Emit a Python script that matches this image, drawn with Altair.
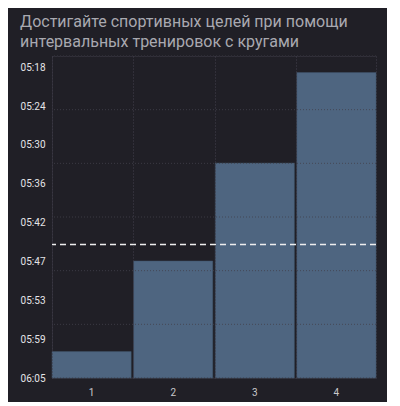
import altair as alt
import pandas as pd

# ---- data ----
LAPS = ["1", "2", "3", "4"]
PACE_SECONDS = [361.0, 347.3, 332.5, 318.8]      # lap pace, seconds per km
AVERAGE_PACE = 344.8                              # dashed reference line
Y_TICK_SECONDS = [318, 323.875, 329.75, 335.625, 341.5, 347.375, 353.25, 359.125, 365]
Y_TICK_LABELS = ["05:18", "05:24", "05:30", "05:36", "05:42", "05:47", "05:53", "05:59", "06:05"]
Y_DOMAIN = [316.3, 365]                           # fastest (top) .. slowest (bottom)
GRID_STEPS = [0, 1, 2, 3, 4, 5, 6]                # evenly spaced horizontal grid
TITLE_LINES = ["Достигайте спортивных целей при помощи",
               "интервальных тренировок с кругами"]

BG = "#201f26"
BAR = "#4e6580"
GRID = "#42414c"
FONT = "Roboto"

bars_df = pd.DataFrame({"lap": LAPS, "pace": PACE_SECONDS, "base": [Y_DOMAIN[1]] * len(LAPS)})
avg_df = pd.DataFrame({"avg": [AVERAGE_PACE]})
grid_df = pd.DataFrame({"g": GRID_STEPS})

label_expr = "{}[indexof({}, datum.value)]".format(
    "[" + ",".join("'" + s + "'" for s in Y_TICK_LABELS) + "]",
    "[" + ",".join(str(v) for v in Y_TICK_SECONDS) + "]",
)

x_enc = alt.X(
    "lap:N",
    sort=LAPS,
    title=None,
    scale=alt.Scale(paddingInner=0.03, paddingOuter=0),
    axis=alt.Axis(
        labelAngle=0, labelFontSize=10, labelColor="#c9c9cc", labelFont=FONT,
        labelPadding=9, ticks=False, domain=False,
        grid=True, gridColor=GRID, gridDash=[1, 2], gridWidth=1, bandPosition=0,
        zindex=1,
    ),
)

y_scale = alt.Scale(domain=Y_DOMAIN, reverse=True, nice=False, zero=False)

bars = alt.Chart(bars_df).mark_bar(color=BAR, stroke="#3f5268", strokeWidth=0.5).encode(
    x=x_enc,
    y=alt.Y(
        "pace:Q", scale=y_scale, title=None,
        axis=alt.Axis(
            values=Y_TICK_SECONDS, labelExpr=label_expr, labelFontSize=10,
            labelColor="#e4e4e6", labelFont=FONT, labelPadding=7,
            ticks=False, domain=False, grid=False, labelFlush=False,
        ),
    ),
    y2="base:Q",
)

avg_rule = alt.Chart(avg_df).mark_rule(color="#eeeeee", strokeDash=[6, 4], strokeWidth=1.5).encode(
    y=alt.Y("avg:Q", scale=y_scale)
)

grid = alt.Chart(grid_df).mark_rule(color=GRID, strokeDash=[1, 2], strokeWidth=1, opacity=0.8).encode(
    y=alt.Y("g:Q", scale=alt.Scale(domain=[0, 6], nice=False, zero=False), axis=None)
)

main = alt.layer(bars, avg_rule)
chart = (
    alt.layer(main, grid)
    .resolve_scale(y="independent")
    .properties(
        width=324,
        height=322,
        background=BG,
        padding={"left": 12, "top": 5, "right": 10, "bottom": 5},
        title=alt.TitleParams(
            text=TITLE_LINES, anchor="start", frame="bounds", font=FONT,
            fontSize=16, fontWeight="normal", color="#a9a9b0", lineHeight=20, offset=6,
        ),
    )
    .configure_view(stroke=GRID, strokeDash=[1, 2], strokeWidth=1)
)

chart.save("out.html", embed_options={"renderer": "svg", "actions": False})
